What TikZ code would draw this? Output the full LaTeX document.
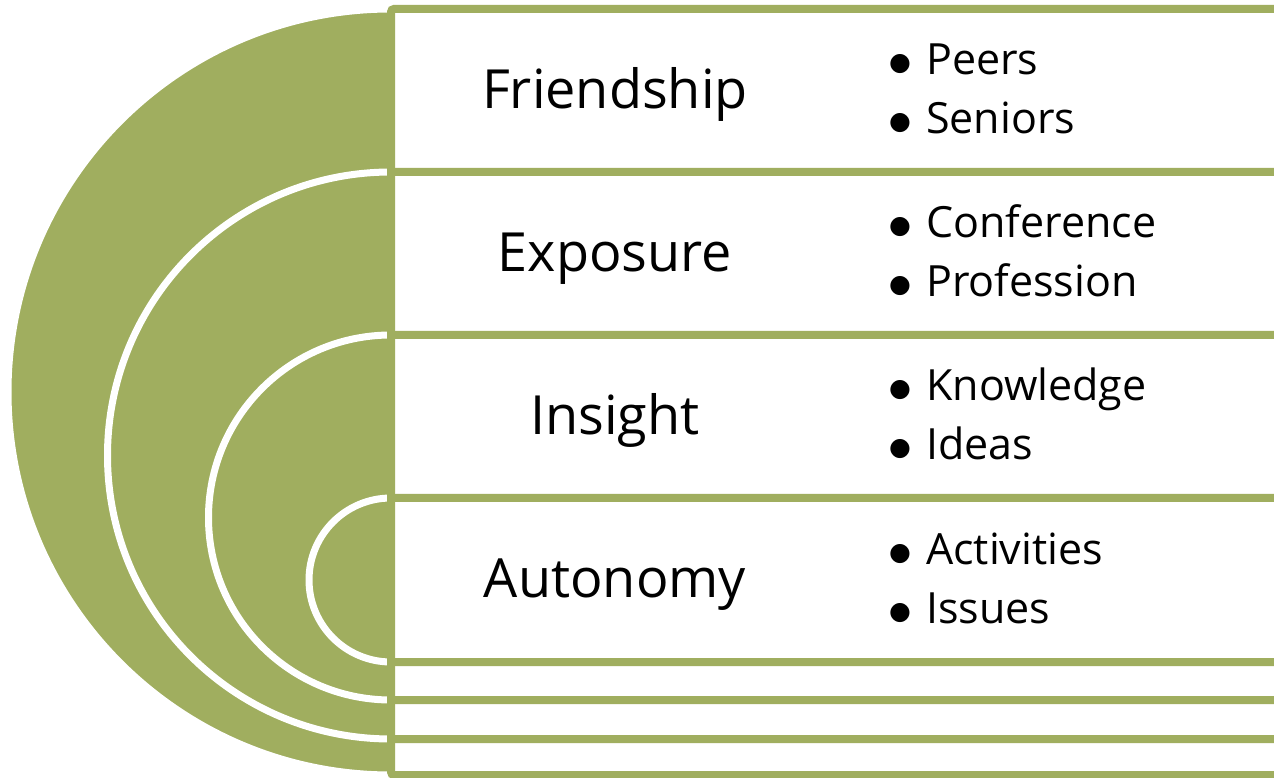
\documentclass[tikz,border=0pt]{standalone}
\usepackage{fontspec}
\setmainfont{Open Sans}
\newfontfamily\symfont{DejaVu Sans}
\definecolor{sagegreen}{HTML}{A0AE5F}
\tikzset{
  semi/.style={fill=sagegreen, draw=white, line width=7pt},
  band/.style={fill=white, draw=sagegreen, line width=8pt, rounded corners=3pt},
  title/.style={anchor=base, inner sep=0pt, font=\fontsize{54}{60}\selectfont},
  item/.style={anchor=base west, inner sep=0pt, font=\fontsize{43}{50}\selectfont}
}
\newcommand{\bul}[1]{\makebox[37pt][l]{\hspace{0pt}\raisebox{4pt}{\symfont\fontsize{25}{26}\selectfont ●}}#1}
\begin{document}
\begin{tikzpicture}[x=1pt,y=1pt]
\useasboundingbox (0,0) rectangle (1274,777);
\fill[white] (0,0) rectangle (1274,777);
\begin{scope}
\clip (0,0) rectangle (1274,777);
% semicircles
\filldraw[semi] (391,768) arc[start angle=90,end angle=270,radius=383pt] -- cycle;
\filldraw[semi] (391,605) arc[start angle=90,end angle=270,radius=283.5pt] -- cycle;
\filldraw[semi] (391,442) arc[start angle=90,end angle=270,radius=182.5pt] -- cycle;
\filldraw[semi] (391,279) arc[start angle=90,end angle=270,radius=82pt] -- cycle;
% bands
\draw[band] (391,2) rectangle (1300,768);
\draw[band] (391,38) rectangle (1300,605);
\draw[band] (391,77) rectangle (1300,442);
\draw[band] (391,115) rectangle (1300,279);
\end{scope}
% titles
\node[title] (t1) at (615,668.5) {Friendship};
\node[title] (t2) at (615,505.5) {Exposure};
\node[title] (t3) at (615,342.5) {Insight};
\node[title] (t4) at (615,179.5) {Autonomy};
% bullets
\node[item] (b1a) at (889,702) {\bul{Peers}};
\node[item] (b1b) at (889,643) {\bul{Seniors}};
\node[item] (b2a) at (889,539) {\bul{Conference}};
\node[item] (b2b) at (889,480) {\bul{Profession}};
\node[item] (b3a) at (889,376) {\bul{Knowledge}};
\node[item] (b3b) at (889,317) {\bul{Ideas}};
\node[item] (b4a) at (889,213) {\bul{Activities}};
\node[item] (b4b) at (889,154) {\bul{Issues}};
\end{tikzpicture}
\end{document}
